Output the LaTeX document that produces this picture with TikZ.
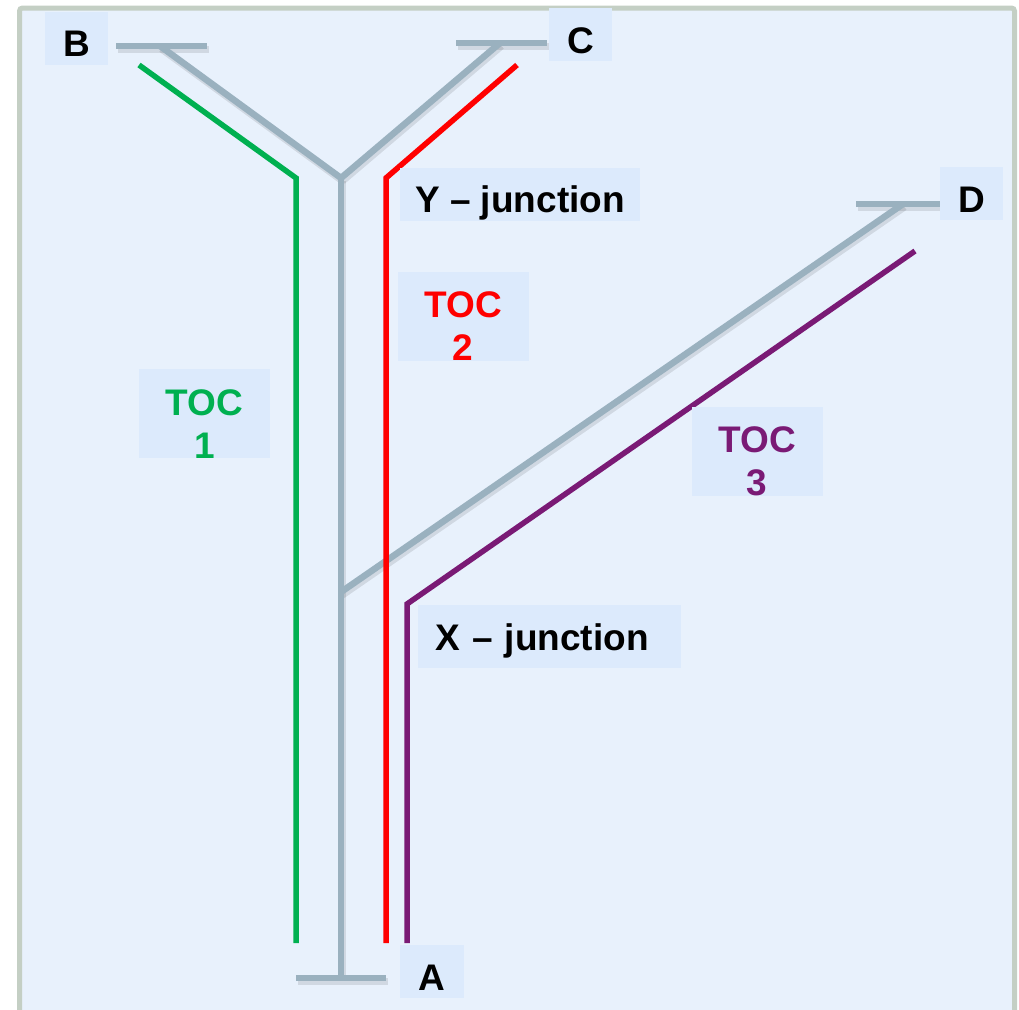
\documentclass[tikz,border=0pt]{standalone}
\usepackage{fontspec}
\setmainfont{Liberation Sans}
\definecolor{railgrey}{HTML}{9AB1BF}
\definecolor{tocgreen}{HTML}{00B050}
\definecolor{tocred}{HTML}{FF0000}
\definecolor{tocpurple}{HTML}{7A1A75}
\definecolor{panelblue}{HTML}{E8F1FC}
\definecolor{labelblue}{HTML}{DCEAFC}
\definecolor{framegrey}{HTML}{C4CFC4}
\begin{document}
\begin{tikzpicture}[x=1pt, y=-1pt,
  every node/.style={font=\fontsize{37}{43}\selectfont\bfseries},
  rail/.style={line width=6.5pt, railgrey},
  railshadow/.style={line width=7pt, black, opacity=0.10, transform canvas={xshift=1.5pt, yshift=-3pt}},
  toc/.style={line width=5.5pt},
  lab/.style={fill=labelblue, inner sep=0pt, text height=45pt, text depth=8pt},
  tocbox/.style={fill=labelblue, inner sep=0pt, align=center, minimum width=131pt, text height=89pt, text depth=0pt}]
\clip (0,0) rectangle (1019,1009);
% Panel
\draw[framegrey, line width=5pt, fill=panelblue, rounded corners=3pt] (19.5,8) rectangle (1014.5,1030);
% Track points
\coordinate (Y) at (341,178); \coordinate (X) at (341,592); \coordinate (A) at (341,978);
\coordinate (Al) at (296,978); \coordinate (Ar) at (386,978);
\coordinate (B) at (160,46); \coordinate (Bl) at (116,46); \coordinate (Br) at (207,46);
\coordinate (C) at (500,43); \coordinate (Cl) at (456,43); \coordinate (Cr) at (547,43);
\coordinate (D) at (903,204); \coordinate (Dl) at (856,204); \coordinate (Dr) at (947,204);
% Shadows under the tracks
\draw[railshadow] (A)--(Y); \draw[railshadow] (Al)--(Ar);
\draw[railshadow] (Y)--(B); \draw[railshadow] (Bl)--(Br);
\draw[railshadow] (Y)--(C); \draw[railshadow] (Cl)--(Cr);
\draw[railshadow] (X)--(D); \draw[railshadow] (Dl)--(Dr);
% Tracks
\draw[rail] (A)--(Y); \draw[rail] (Al)--(Ar);
\draw[rail] (Y)--(B); \draw[rail] (Bl)--(Br);
\draw[rail] (Y)--(C); \draw[rail] (Cl)--(Cr);
\draw[rail] (X)--(D); \draw[rail] (Dl)--(Dr);
% Operator routes
\coordinate (g1) at (139,65); \coordinate (g2) at (296,178); \coordinate (g3) at (296,943);
\coordinate (r1) at (517,65); \coordinate (r2) at (386,178); \coordinate (r3) at (386,943);
\coordinate (p1) at (915,251); \coordinate (p2) at (407,604); \coordinate (p3) at (407,943);
\draw[toc, tocgreen] (g1)--(g2)--(g3);
\draw[toc, tocred] (r1)--(r2)--(r3);
\draw[toc, tocpurple] (p1)--(p2)--(p3);
% Labels
\node[lab, minimum width=63pt] (labB) at (76.5,38) {B};
\node[lab, minimum width=63pt] (labC) at (580.5,34.5) {C};
\node[lab, minimum width=63pt] (labD) at (971.5,193.5) {D};
\node[lab, minimum width=64pt] (labA) at (432,971.5) {A};
\node[lab, minimum width=240pt] (labY) at (520,194) {Y -- junction};
\node[lab, inner xsep=17pt, text width=229pt, align=left, text depth=18pt] (labX) at (549.5,636.5) {X -- junction};
\node[tocbox, text=tocgreen] (toc1) at (204.5,413.5) {TOC\\1};
\node[tocbox, text=tocred] (toc2) at (463,316) {TOC\\2};
\node[tocbox, text=tocpurple] (toc3) at (757,451) {TOC\\3};
\end{tikzpicture}
\end{document}
